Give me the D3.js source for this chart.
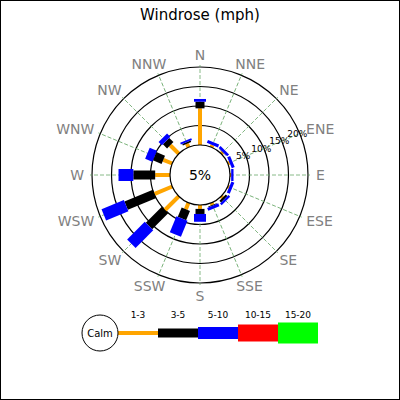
<!DOCTYPE html>
<html>
<head>
<meta charset="utf-8">
<script src="https://cdn.jsdelivr.net/npm/d3@7"></script>
<style>
  body { margin: 0; background: #fff; }
  svg { display: block; font-family: "DejaVu Sans", sans-serif; }
</style>
</head>
<body>
<div id="chart"></div>
<script>
// wind directions, clockwise from north
const directions = ["N", "NNE", "NE", "ENE", "E", "ESE", "SE", "SSE",
  "S", "SSW", "SW", "WSW", "W", "WNW", "NW", "NNW"];
const speedBins = ["1-3", "3-5", "5-10", "10-15", "15-20"];
const binColors = ["orange", "black", "blue", "red", "#00ff00"];
const binWidths = [4, 9, 12, 17, 21];
// percent of time per direction, one array per speed bin
const pct1to3 = [9.4, 0.6, 0.5, 0.5, 0.3, 0.4, 0.5, 0.6, 1.0, 1.8, 5.0, 4.9, 3.8, 2.5, 3.1, 1.0];
const pct3to5 = [1.7, 0.0, 0.1, 0.0, 0.0, 0.0, 0.6, 0.2, 1.3, 2.6, 5.8, 7.9, 5.6, 2.4, 1.5, 0.4];
const pct5to10 = [0.7, 0.8, 0.7, 0.8, 0.6, 0.8, 0.6, 0.8, 2.0, 4.4, 6.4, 6.2, 3.8, 2.0, 1.2, 0.5];
const pct10to15 = [0, 0, 0, 0, 0, 0, 0, 0, 0, 0, 0, 0, 0, 0, 0, 0];
const pct15to20 = [0, 0, 0, 0, 0, 0, 0, 0, 0, 0, 0, 0, 0, 0, 0, 0];
const calmPct = "5%";
const ringTicks = [5, 10, 15, 20];

const series = [pct1to3, pct3to5, pct5to10, pct10to15, pct15to20];

const W = 400, H = 400, cx = 200, cy = 175;
const svg = d3.select("#chart").append("svg")
  .attr("width", W).attr("height", H);

svg.append("rect")
  .attr("x", 0.5).attr("y", 0.5).attr("width", W - 1).attr("height", H - 1)
  .attr("fill", "#fff").attr("stroke", "#000");

svg.append("text")
  .attr("x", cx).attr("y", 20)
  .attr("text-anchor", "middle")
  .attr("font-size", 15)
  .text("Windrose (mph)");

const r = d3.scaleLinear().domain([0, 20]).range([30, 108]);
const angle = d3.scalePoint().domain(directions).range([0, 360 - 22.5]);
const rad = d => angle(d) * Math.PI / 180;

const g = svg.append("g").attr("transform", `translate(${cx},${cy})`);

// rings
g.selectAll("circle.ring")
  .data(ringTicks)
  .join("circle")
  .attr("class", "ring")
  .attr("r", d => r(d))
  .attr("fill", "none")
  .attr("stroke", "#000")
  .attr("stroke-width", 1.2);

// spokes
g.selectAll("line.spoke")
  .data(directions)
  .join("line")
  .attr("class", "spoke")
  .attr("transform", d => `rotate(${angle(d)})`)
  .attr("y1", -r(0)).attr("y2", -110)
  .attr("stroke", "#6aa86a")
  .attr("stroke-width", 0.8)
  .attr("stroke-dasharray", "4,2");

// stacked bars
directions.forEach((dir, i) => {
  let acc = 0;
  const bg = g.append("g").attr("transform", `rotate(${angle(dir)})`);
  series.forEach((vals, b) => {
    const v = vals[i];
    if (v <= 0) return;
    const r0 = r(acc), r1 = r(acc + v);
    acc += v;
    bg.append("rect")
      .attr("x", -binWidths[b] / 2)
      .attr("y", -r1)
      .attr("width", binWidths[b])
      .attr("height", r1 - r0)
      .attr("fill", binColors[b]);
  });
});

// calm circle
g.append("circle")
  .attr("r", r(0))
  .attr("fill", "#fff")
  .attr("stroke", "#000")
  .attr("stroke-width", 1.2);
g.append("text")
  .attr("text-anchor", "middle")
  .attr("dominant-baseline", "central")
  .attr("font-size", 14)
  .text(calmPct);

// ring labels along ENE
g.selectAll("text.ringlab")
  .data(ringTicks)
  .join("text")
  .attr("class", "ringlab")
  .attr("x", d => r(d) * Math.sin(rad("ENE")) - 2.5)
  .attr("y", d => -r(d) * Math.cos(rad("ENE")))
  .attr("text-anchor", "middle")
  .attr("dominant-baseline", "central")
  .attr("font-size", 9)
  .text(d => d + "%");

// direction labels, box edge kept at a fixed distance from centre
const labR = 116;
g.selectAll("text.dir")
  .data(directions)
  .join("text")
  .attr("class", "dir")
  .attr("text-anchor", "middle")
  .attr("dominant-baseline", "central")
  .attr("font-size", 14)
  .attr("fill", "#808080")
  .text(d => d)
  .each(function (d) {
    const hw = this.getComputedTextLength() / 2, hh = 4.5;
    const sx = Math.sin(rad(d)), sy = -Math.cos(rad(d));
    d3.select(this)
      .attr("x", labR * sx + hw * sx)
      .attr("y", labR * sy + hh * sy);
  });

// legend
const lx = d3.scaleBand().domain(speedBins).range([118, 318]);
const ly = 333;
const leg = svg.append("g");
leg.selectAll("rect")
  .data(speedBins)
  .join("rect")
  .attr("x", d => lx(d))
  .attr("y", (d, i) => ly - binWidths[i] / 2)
  .attr("width", lx.bandwidth())
  .attr("height", (d, i) => binWidths[i])
  .attr("fill", (d, i) => binColors[i]);
leg.selectAll("text")
  .data(speedBins)
  .join("text")
  .attr("x", d => lx(d) + lx.bandwidth() / 2)
  .attr("y", 318)
  .attr("text-anchor", "middle")
  .attr("font-size", 9)
  .text(d => d);
leg.append("circle")
  .attr("cx", 100).attr("cy", ly).attr("r", 18)
  .attr("fill", "#fff").attr("stroke", "#000");
leg.append("text")
  .attr("x", 100).attr("y", ly)
  .attr("text-anchor", "middle")
  .attr("dominant-baseline", "central")
  .attr("font-size", 10)
  .text("Calm");
</script>
</body>
</html>
